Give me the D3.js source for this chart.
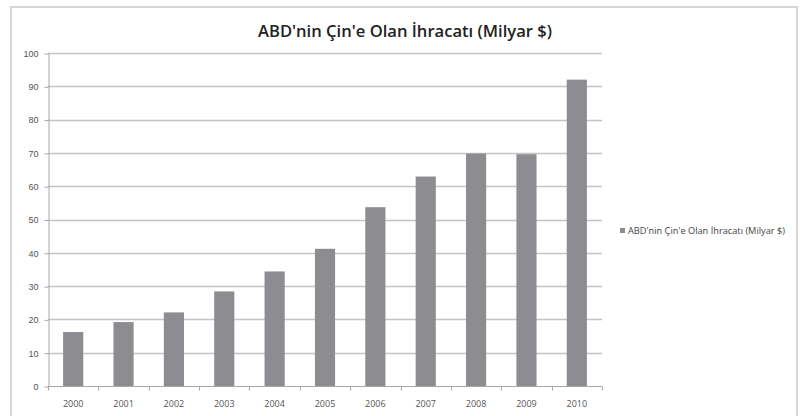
<!DOCTYPE html>
<html>
<head>
<meta charset="utf-8">
<script src="https://cdn.jsdelivr.net/npm/d3@7"></script>
<style>
  body { margin: 0; background: #fff; }
  svg { display: block; font-family: "Open Sans", "DejaVu Sans", sans-serif; }
</style>
</head>
<body>
<svg id="chart"></svg>
<script>
const YEARS = ["2000", "2001", "2002", "2003", "2004", "2005", "2006", "2007", "2008", "2009", "2010"];
const EXPORTS = [16.2, 19.2, 22.1, 28.4, 34.4, 41.2, 53.7, 62.9, 69.8, 69.6, 92.0];
const Y_TICKS = [0, 10, 20, 30, 40, 50, 60, 70, 80, 90, 100];
const TITLE = "ABD'nin Çin'e Olan İhracatı (Milyar $)";
const SERIES_NAME = "ABD'nin Çin'e Olan İhracatı (Milyar $)";

const WIDTH = 804;
const HEIGHT = 416;
const margin = { top: 53, right: 202, bottom: 30, left: 48 };

const CHART_START_X = margin.left;
const CHART_END_X = WIDTH - margin.right;
const CHART_START_Y = margin.top;
const CHART_END_Y = HEIGHT - margin.bottom;

const BAR_COLOR = "#8d8d91";
const GRID_COLOR = "#c4c4c4";
const AXIS_COLOR = "#a8a8a8";
const TEXT_COLOR = "#555";

const svg = d3.select("#chart").attr("width", WIDTH).attr("height", HEIGHT);

// outer chart frame
svg.append("rect")
  .attr("x", 11).attr("y", 7)
  .attr("width", 786).attr("height", 420)
  .attr("fill", "none")
  .attr("stroke", "#d6d6d6")
  .attr("stroke-width", 2);

const xScale = d3.scaleBand()
  .domain(YEARS)
  .range([CHART_START_X, CHART_END_X])
  .paddingInner(0.6)
  .paddingOuter(0.3);

const yScale = d3.scaleLinear()
  .domain([0, 100])
  .range([CHART_END_Y, CHART_START_Y]);

// grid
svg.append("g")
  .selectAll("line")
  .data(Y_TICKS.filter((d) => d > 0))
  .join("line")
  .attr("x1", CHART_START_X)
  .attr("x2", CHART_END_X)
  .attr("y1", (d) => Math.round(yScale(d)) + 0.5)
  .attr("y2", (d) => Math.round(yScale(d)) + 0.5)
  .attr("stroke", GRID_COLOR)
  .attr("stroke-width", 1.5);

// bars
svg.append("g")
  .selectAll("rect")
  .data(YEARS.map((y, i) => ({ year: y, value: EXPORTS[i] })))
  .join("rect")
  .attr("x", (d) => xScale(d.year))
  .attr("y", (d) => yScale(d.value))
  .attr("width", xScale.bandwidth())
  .attr("height", (d) => yScale(0) - yScale(d.value))
  .attr("fill", BAR_COLOR);

// y axis
const yAxis = d3.axisLeft(yScale)
  .tickValues(Y_TICKS)
  .tickSize(4)
  .tickSizeOuter(0)
  .tickPadding(6);

const yG = svg.append("g")
  .attr("transform", `translate(${CHART_START_X + 0.5}, 0.5)`)
  .call(yAxis);
yG.select(".domain").attr("stroke", AXIS_COLOR);
yG.selectAll(".tick line").attr("stroke", AXIS_COLOR);
yG.selectAll(".tick text")
  .attr("fill", TEXT_COLOR)
  .style("font-size", "9px");

// x axis: ticks between categories like the spreadsheet
const xAxisG = svg.append("g").attr("transform", `translate(0, ${Math.round(CHART_END_Y) + 0.5})`);
xAxisG.append("line")
  .attr("x1", CHART_START_X)
  .attr("x2", CHART_END_X)
  .attr("stroke", AXIS_COLOR);

const boundaries = d3.range(YEARS.length + 1).map((i) => CHART_START_X + i * (CHART_END_X - CHART_START_X) / YEARS.length);
xAxisG.selectAll(".xtick")
  .data(boundaries)
  .join("line")
  .classed("xtick", true)
  .attr("x1", (d) => Math.round(d) + 0.5)
  .attr("x2", (d) => Math.round(d) + 0.5)
  .attr("y1", 0)
  .attr("y2", 4)
  .attr("stroke", AXIS_COLOR);

xAxisG.selectAll(".xlabel")
  .data(YEARS)
  .join("text")
  .classed("xlabel", true)
  .attr("x", (d) => xScale(d) + xScale.bandwidth() / 2)
  .attr("y", 20)
  .attr("text-anchor", "middle")
  .attr("fill", TEXT_COLOR)
  .style("font-size", "9px")
  .text((d) => d);

// title
svg.append("text")
  .attr("x", 405)
  .attr("y", 37)
  .attr("text-anchor", "middle")
  .attr("fill", "#222")
  .style("font-size", "17px")
  .style("font-weight", "600")
  .attr("textLength", 294)
  .attr("lengthAdjust", "spacingAndGlyphs")
  .text(TITLE);

// legend
const legend = svg.append("g").attr("transform", "translate(620, 231)");
legend.append("rect")
  .attr("x", 0).attr("y", -3)
  .attr("width", 5).attr("height", 5)
  .attr("fill", BAR_COLOR);
legend.append("text")
  .attr("x", 8)
  .attr("y", 0)
  .attr("dy", "0.35em")
  .attr("fill", "#444")
  .style("font-size", "8.5px")
  .attr("textLength", 157)
  .attr("lengthAdjust", "spacingAndGlyphs")
  .text(SERIES_NAME);
</script>
</body>
</html>
